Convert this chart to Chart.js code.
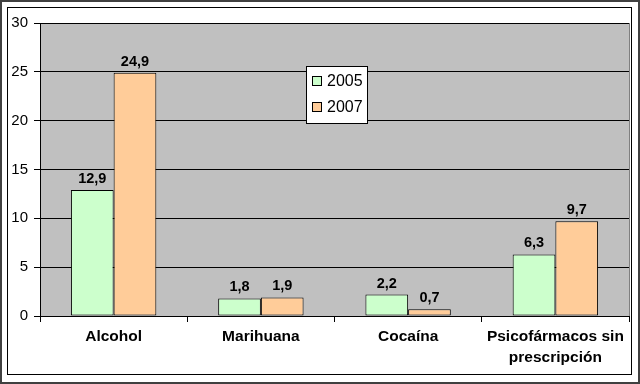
<!DOCTYPE html>
<html>
<head>
<meta charset="utf-8">
<script src="https://cdn.jsdelivr.net/npm/chart.js@4.4.1/dist/chart.umd.min.js"></script>
<style>
html,body{margin:0;padding:0;background:#fff;}
#c{display:block;}
</style>
</head>
<body>
<canvas id="c" width="640" height="384"></canvas>
<script>
const categories = ["Alcohol", "Marihuana", "Cocaína", ["Psicofármacos sin", "prescripción"]];
const seriesNames = ["2005", "2007"];
const values2005 = [12.9, 1.8, 2.2, 6.3];
const values2007 = [24.9, 1.9, 0.7, 9.7];
const yTicks = [0, 5, 10, 15, 20, 25, 30];

const FONT = "'Liberation Sans', Arial, sans-serif";
const colors = ["#CCFFCC", "#FFCC99"];

const framePlugin = {
  id: "frame",
  beforeDraw(chart) {
    const ctx = chart.ctx, a = chart.chartArea;
    ctx.save();
    ctx.fillStyle = "#fff";
    ctx.fillRect(0, 0, chart.width, chart.height);
    ctx.strokeStyle = "#404040";
    ctx.lineWidth = 2;
    ctx.strokeRect(1, 1, chart.width - 2, chart.height - 2);
    ctx.strokeStyle = "#000";
    ctx.lineWidth = 1;
    ctx.strokeRect(7.5, 7.5, 624, 367);
    ctx.fillStyle = "#C0C0C0";
    ctx.fillRect(a.left, a.top, a.right - a.left, a.bottom - a.top);
    ctx.strokeStyle = "#808080";
    ctx.strokeRect(a.left + 0.5, a.top + 0.5, a.right - a.left, a.bottom - a.top);
    ctx.restore();
  },
  afterDatasetsDraw(chart) {
    const ctx = chart.ctx;
    ctx.save();
    ctx.font = "bold 14.5px " + FONT;
    ctx.fillStyle = "#000";
    ctx.textAlign = "center";
    ctx.textBaseline = "alphabetic";
    chart.data.datasets.forEach((ds, i) => {
      const meta = chart.getDatasetMeta(i);
      meta.data.forEach((bar, j) => {
        const txt = ds.data[j].toFixed(1).replace(".", ",");
        ctx.fillText(txt, bar.x, bar.y - 7);
      });
    });
    // legend
    const lx = 306, ly = 66, lw = 61, lh = 57;
    ctx.fillStyle = "#fff";
    ctx.fillRect(lx, ly, lw, lh);
    ctx.strokeStyle = "#000";
    ctx.lineWidth = 1;
    ctx.strokeRect(lx + 0.5, ly + 0.5, lw, lh);
    ctx.font = "16px " + FONT;
    ctx.textAlign = "left";
    ctx.textBaseline = "middle";
    chart.data.datasets.forEach((ds, i) => {
      const cy = 81 + i * 26;
      ctx.fillStyle = ds.backgroundColor;
      ctx.fillRect(312.5, cy - 4.5, 9, 9);
      ctx.strokeStyle = "#000";
      ctx.strokeRect(312.5, cy - 4.5, 9, 9);
      ctx.fillStyle = "#000";
      ctx.fillText(ds.label, 327, cy + 1);
    });
    ctx.restore();
  }
};

new Chart(document.getElementById("c"), {
  type: "bar",
  data: {
    labels: categories,
    datasets: [
      { label: seriesNames[0], data: values2005, backgroundColor: colors[0], borderColor: "#000", borderWidth: 1, borderSkipped: false },
      { label: seriesNames[1], data: values2007, backgroundColor: colors[1], borderColor: "#000", borderWidth: 1, borderSkipped: false }
    ]
  },
  options: {
    responsive: false,
    animation: false,
    devicePixelRatio: 1,
    layout: { padding: { left: 0, top: 23, right: 11, bottom: 0 } },
    plugins: { legend: { display: false }, tooltip: { enabled: false } },
    datasets: { bar: { categoryPercentage: 0.58, barPercentage: 1 } },
    scales: {
      x: {
        afterFit(s) { s.height = 68; },
        grid: { display: true, drawOnChartArea: false, drawTicks: true, tickLength: 6, color: "#000", offset: true },
        border: { display: true, color: "#000", width: 1 },
        ticks: { color: "#000", font: { family: FONT, size: 15.5, weight: "bold", lineHeight: 1.35 }, padding: 4, maxRotation: 0, autoSkip: false }
      },
      y: {
        min: 0, max: 30,
        afterFit(s) { s.width = 40; },
        afterBuildTicks(s) { s.ticks = yTicks.map(v => ({ value: v })); },
        grid: { color: "#000", tickLength: 6, lineWidth: 1 },
        border: { display: true, color: "#000", width: 1 },
        ticks: { color: "#000", font: { family: FONT, size: 15 }, padding: 6 }
      }
    }
  },
  plugins: [framePlugin]
});
</script>
</body>
</html>
